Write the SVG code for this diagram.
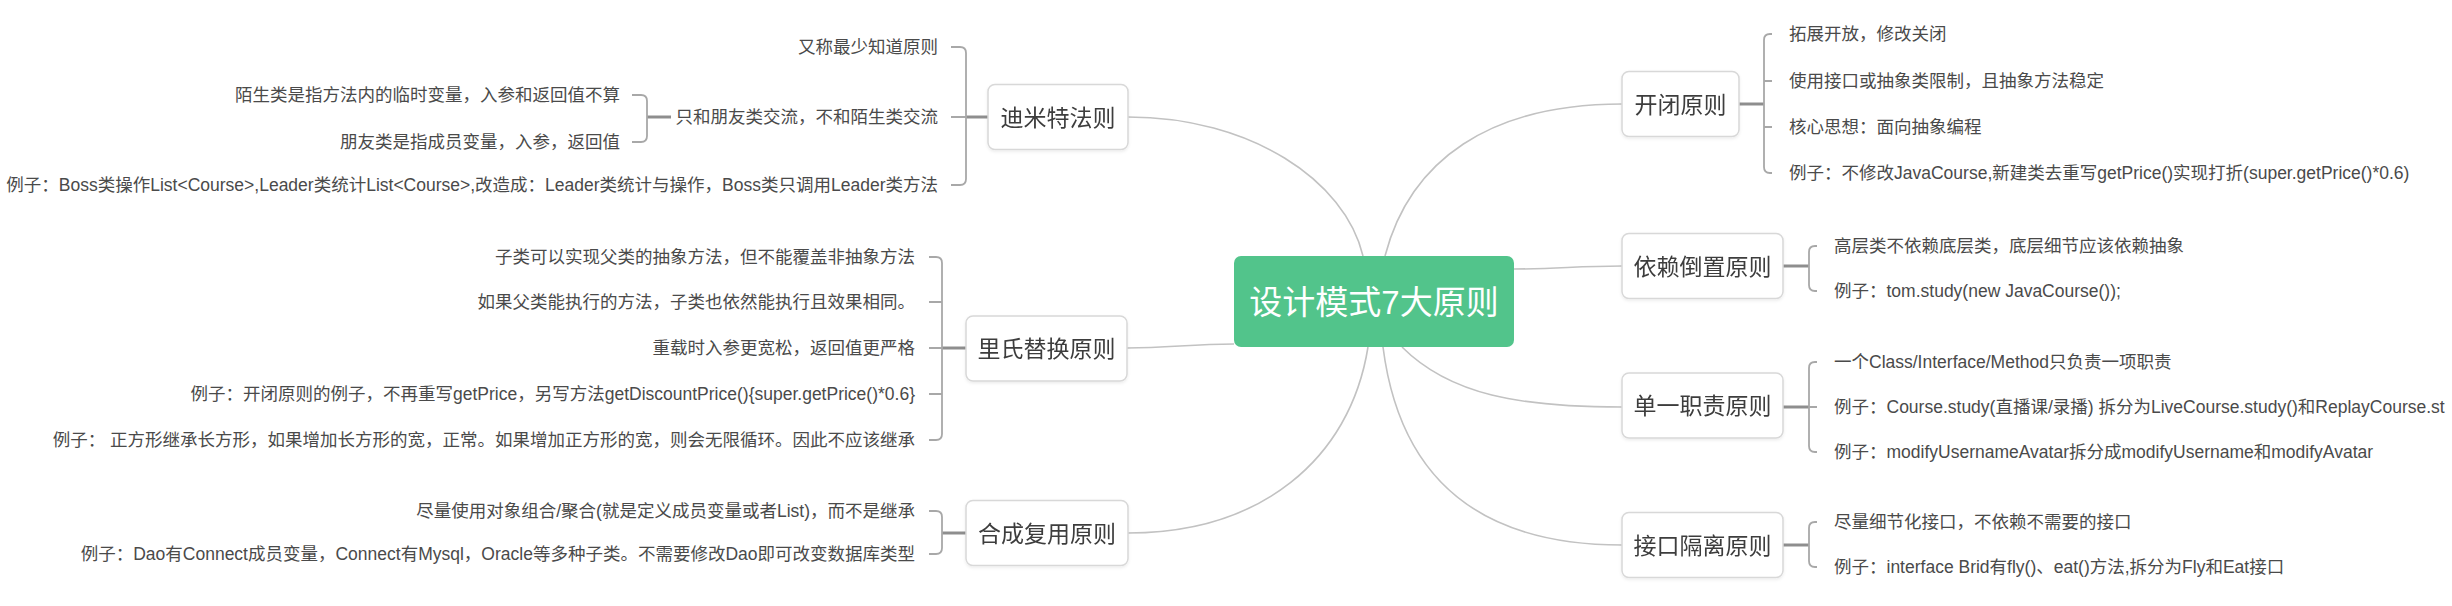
<svg xmlns="http://www.w3.org/2000/svg" width="2452" height="606" viewBox="0 0 2452 606">
<defs>
<filter id="sh" x="-10%" y="-10%" width="120%" height="130%"><feDropShadow dx="0" dy="1.5" stdDeviation="1.5" flood-color="#000" flood-opacity="0.08"/></filter>
</defs>
<style>
text{font-family:"Liberation Sans","Noto Sans CJK SC",sans-serif}
.conn{fill:none;stroke:#C2C2C2;stroke-width:1.6}
.stub{fill:none;stroke:#8E8E8E;stroke-width:3}
.br{fill:none;stroke:#A8A8A8;stroke-width:1.8}
.box{fill:#FFFFFF;stroke:#D8D8D8;stroke-width:1.5}
.nt{font-size:23px;fill:#3C3C3C;text-anchor:middle}
.lf{font-size:17.5px;fill:#4A4A4A}
.r{text-anchor:start}
.l{text-anchor:end}
</style>
<rect width="2452" height="606" fill="#FFFFFF"/>
<g id="connectors">
<path class="conn" d="M1363,256 C1345,180 1250,117 1128,117"/>
<path class="conn" d="M1385,256 C1410,160 1490,104 1622,104"/>
<path class="conn" d="M1514,269 C1560,269 1575,266 1622,266"/>
<path class="conn" d="M1402,347 C1450,395 1520,407 1622,407"/>
<path class="conn" d="M1383,347 C1400,480 1480,545 1622,545"/>
<path class="conn" d="M1234,344 C1190,344 1170,348 1127,348"/>
<path class="conn" d="M1368,347 C1350,460 1260,533 1128,533"/>
<path class="stub" d="M1739,104 H1764"/>
<path class="br" d="M1772,34 H1770 Q1764,34 1764,40 V167 Q1764,173 1770,173 H1772 M1764,81 H1772 M1764,127 H1772"/>
<path class="stub" d="M1783,266 H1809"/>
<path class="br" d="M1817,246 H1815 Q1809,246 1809,252 V285 Q1809,291 1815,291 H1817"/>
<path class="stub" d="M1783,407 H1809"/>
<path class="br" d="M1817,362 H1815 Q1809,362 1809,368 V446 Q1809,452 1815,452 H1817 M1809,407 H1817"/>
<path class="stub" d="M1783,545 H1809"/>
<path class="br" d="M1817,522 H1815 Q1809,522 1809,528 V561 Q1809,567 1815,567 H1817"/>
<path class="stub" d="M988,117 H966"/>
<path class="br" d="M951,47 H960 Q966,47 966,53 V179 Q966,185 960,185 H951 M966,117 H951"/>
<path class="stub" d="M671,117 H647"/>
<path class="br" d="M632,95 H641 Q647,95 647,101 V136 Q647,142 641,142 H632"/>
<path class="stub" d="M966,348 H942"/>
<path class="br" d="M929,257 H936 Q942,257 942,263 V434 Q942,440 936,440 H929 M942,302 H929 M942,348 H929 M942,394 H929"/>
<path class="stub" d="M966,533 H942"/>
<path class="br" d="M929,511 H936 Q942,511 942,517 V548 Q942,554 936,554 H929"/>
</g>
<g id="root">
<rect x="1234" y="256" width="280" height="91" rx="7" fill="#52C48B"/>
<text x="1374" y="314" font-size="33" fill="#FFFFFF" text-anchor="middle">设计模式7大原则</text>
</g>
<g id="kaibi" filter="url(#sh)">
<rect class="box" x="1622" y="71.5" width="117" height="65" rx="7"/>
<text class="nt" x="1680.5" y="112.5">开闭原则</text>
</g>
<g id="kaibi-leaves">
<text id="kb1" class="lf r" x="1789" y="40">拓展开放，修改关闭</text>
<text id="kb2" class="lf r" x="1789" y="87">使用接口或抽象类限制，且抽象方法稳定</text>
<text id="kb3" class="lf r" x="1789" y="133">核心思想：面向抽象编程</text>
<text id="kb4" class="lf r" x="1789" y="179">例子：不修改JavaCourse,新建类去重写getPrice()实现打折(super.getPrice()*0.6)</text>
</g>
<g id="yilai" filter="url(#sh)">
<rect class="box" x="1622" y="233.5" width="161" height="65" rx="7"/>
<text class="nt" x="1702.5" y="274.5">依赖倒置原则</text>
</g>
<g id="yilai-leaves">
<text id="yl1" class="lf r" x="1834" y="252">高层类不依赖底层类，底层细节应该依赖抽象</text>
<text id="yl2" class="lf r" x="1834" y="297">例子：tom.study(new JavaCourse());</text>
</g>
<g id="danyi" filter="url(#sh)">
<rect class="box" x="1622" y="373" width="161" height="65" rx="7"/>
<text class="nt" x="1702.5" y="414">单一职责原则</text>
</g>
<g id="danyi-leaves">
<text id="dy1" class="lf r" x="1834" y="368">一个Class/Interface/Method只负责一项职责</text>
<text id="dy2" class="lf r" x="1834" y="413">例子：Course.study(直播课/录播) 拆分为LiveCourse.study()和ReplayCourse.st</text>
<text id="dy3" class="lf r" x="1834" y="458">例子：modifyUsernameAvatar拆分成modifyUsername和modifyAvatar</text>
</g>
<g id="jiekou" filter="url(#sh)">
<rect class="box" x="1622" y="512.5" width="161" height="65" rx="7"/>
<text class="nt" x="1702.5" y="553.5">接口隔离原则</text>
</g>
<g id="jiekou-leaves">
<text id="jk1" class="lf r" x="1834" y="528">尽量细节化接口，不依赖不需要的接口</text>
<text id="jk2" class="lf r" x="1834" y="573">例子：interface Brid有fly()、eat()方法,拆分为Fly和Eat接口</text>
</g>
<g id="dimite" filter="url(#sh)">
<rect class="box" x="988" y="84.5" width="140" height="65" rx="7"/>
<text class="nt" x="1058" y="125.5">迪米特法则</text>
</g>
<g id="dimite-leaves">
<text id="dm1" class="lf l" x="938" y="53">又称最少知道原则</text>
<text id="dm2" class="lf l" x="938" y="123">只和朋友类交流，不和陌生类交流</text>
<text id="dm2a" class="lf l" x="620" y="101">陌生类是指方法内的临时变量，入参和返回值不算</text>
<text id="dm2b" class="lf l" x="620" y="148">朋友类是指成员变量，入参，返回值</text>
<text id="dm3" class="lf l" x="938" y="191">例子：Boss类操作List&lt;Course&gt;,Leader类统计List&lt;Course&gt;,改造成：Leader类统计与操作，Boss类只调用Leader类方法</text>
</g>
<g id="lishi" filter="url(#sh)">
<rect class="box" x="966" y="316" width="161" height="65" rx="7"/>
<text class="nt" x="1046.5" y="357">里氏替换原则</text>
</g>
<g id="lishi-leaves">
<text id="ls1" class="lf l" x="915" y="263">子类可以实现父类的抽象方法，但不能覆盖非抽象方法</text>
<text id="ls2" class="lf l" x="915" y="308">如果父类能执行的方法，子类也依然能执行且效果相同。</text>
<text id="ls3" class="lf l" x="915" y="354">重载时入参更宽松，返回值更严格</text>
<text id="ls4" class="lf l" x="915" y="400">例子：开闭原则的例子，不再重写getPrice，另写方法getDiscountPrice(){super.getPrice()*0.6}</text>
<text id="ls5" class="lf l" x="915" y="446">例子： 正方形继承长方形，如果增加长方形的宽，正常。如果增加正方形的宽，则会无限循环。因此不应该继承</text>
</g>
<g id="hecheng" filter="url(#sh)">
<rect class="box" x="966" y="500.5" width="162" height="65" rx="7"/>
<text class="nt" x="1047" y="541.5">合成复用原则</text>
</g>
<g id="hecheng-leaves">
<text id="hc1" class="lf l" x="915" y="517">尽量使用对象组合/聚合(就是定义成员变量或者List)，而不是继承</text>
<text id="hc2" class="lf l" x="915" y="560">例子：Dao有Connect成员变量，Connect有Mysql，Oracle等多种子类。不需要修改Dao即可改变数据库类型</text>
</g>
</svg>
